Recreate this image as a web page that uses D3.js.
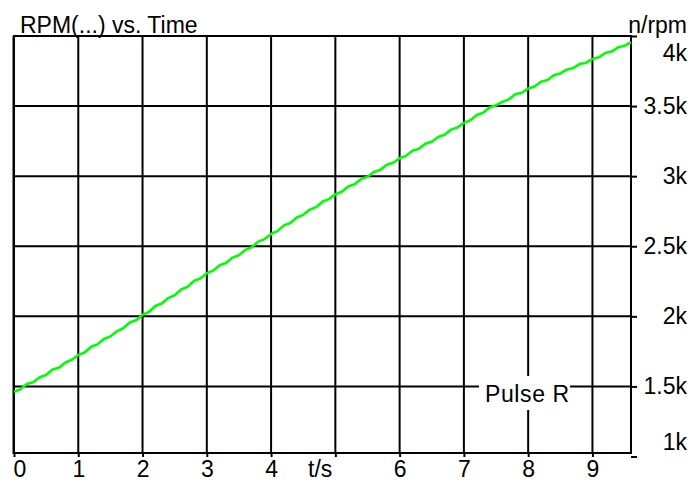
<!DOCTYPE html>
<html>
<head>
<meta charset="utf-8">
<script src="https://cdn.jsdelivr.net/npm/d3@7/dist/d3.min.js"></script>
<style>
  body { margin: 0; background: #fff; }
  text { font-family: "Liberation Sans", Arial, sans-serif; fill: #000; }
</style>
</head>
<body>
<div id="chart"></div>
<script>
// time axis ticks (s) and rpm ticks
var timeTicks = [0, 1, 2, 3, 4, 5, 6, 7, 8, 9];
var rpmTicks = [1000, 1500, 2000, 2500, 3000, 3500, 4000];

var times = [0.0, 0.1, 0.2, 0.3, 0.4, 0.5, 0.6, 0.7, 0.8, 0.9,
  1.0, 1.1, 1.2, 1.3, 1.4, 1.5, 1.6, 1.7, 1.8, 1.9,
  2.0, 2.1, 2.2, 2.3, 2.4, 2.5, 2.6, 2.7, 2.8, 2.9,
  3.0, 3.1, 3.2, 3.3, 3.4, 3.5, 3.6, 3.7, 3.8, 3.9,
  4.0, 4.1, 4.2, 4.3, 4.4, 4.5, 4.6, 4.7, 4.8, 4.9,
  5.0, 5.1, 5.2, 5.3, 5.4, 5.5, 5.6, 5.7, 5.8, 5.9,
  6.0, 6.1, 6.2, 6.3, 6.4, 6.5, 6.6, 6.7, 6.8, 6.9,
  7.0, 7.1, 7.2, 7.3, 7.4, 7.5, 7.6, 7.7, 7.8, 7.9,
  8.0, 8.1, 8.2, 8.3, 8.4, 8.5, 8.6, 8.7, 8.8, 8.9,
  9.0, 9.1, 9.2, 9.3, 9.4, 9.5, 9.6];
var rpm = [1462, 1480, 1518, 1530, 1566, 1581, 1620, 1633, 1671, 1690,
  1724, 1742, 1783, 1800, 1838, 1856, 1893, 1915, 1956, 1972,
  2012, 2031, 2074, 2092, 2130, 2150, 2191, 2210, 2252, 2270,
  2308, 2326, 2365, 2381, 2419, 2436, 2474, 2493, 2533, 2551,
  2588, 2608, 2649, 2666, 2705, 2724, 2761, 2779, 2818, 2836,
  2871, 2889, 2927, 2943, 2979, 2996, 3030, 3045, 3081, 3096,
  3128, 3145, 3181, 3195, 3231, 3246, 3280, 3296, 3332, 3347,
  3380, 3399, 3437, 3452, 3490, 3506, 3530, 3548, 3584, 3595,
  3625, 3640, 3674, 3686, 3720, 3733, 3760, 3771, 3800, 3809,
  3836, 3848, 3879, 3889, 3919, 3930, 3956];

var width = 690, height = 480;
var plotLeft = 14, plotRight = 631, plotTop = 36, plotBottom = 453;

var svg = d3.select('#chart').append('svg')
    .attr('width', width)
    .attr('height', height);

svg.append('rect').attr('width', width).attr('height', height).attr('fill', '#fff');

var x = d3.scaleLinear().domain([0, 9.6]).range([plotLeft, plotRight]);
var y = d3.scaleLinear().domain([1025, 4000]).range([plotBottom, plotTop]);

// grid
var grid = svg.append('g').attr('stroke', '#000').attr('stroke-width', 2);
grid.selectAll('line.v')
    .data(timeTicks.slice(1))
    .enter().append('line')
    .attr('class', 'v')
    .attr('x1', function(d) { return x(d); })
    .attr('x2', function(d) { return x(d); })
    .attr('y1', plotTop)
    .attr('y2', plotBottom);
grid.selectAll('line.h')
    .data(rpmTicks.filter(function(d) { return y(d) <= plotBottom; }))
    .enter().append('line')
    .attr('class', 'h')
    .attr('x1', plotLeft)
    .attr('x2', plotRight)
    .attr('y1', function(d) { return y(d); })
    .attr('y2', function(d) { return y(d); });

// frame
svg.append('rect')
    .attr('x', plotLeft).attr('y', plotTop)
    .attr('width', plotRight - plotLeft).attr('height', plotBottom - plotTop)
    .attr('fill', 'none').attr('stroke', '#000').attr('stroke-width', 2);
svg.append('line')
    .attr('x1', plotLeft - 0.5).attr('x2', plotLeft - 0.5)
    .attr('y1', plotTop).attr('y2', plotBottom + 1)
    .attr('stroke', '#000').attr('stroke-width', 2);

// legend box (masks grid)
svg.append('rect')
    .attr('x', 479).attr('y', 376).attr('width', 91).attr('height', 34)
    .attr('fill', '#fff');
svg.append('text')
    .attr('x', 485).attr('y', 401.5)
    .style('font-size', '23px')
    .style('letter-spacing', '0.6px')
    .text('Pulse R');

// data line
var line = d3.line()
    .x(function(d, i) { return x(times[i]); })
    .y(function(d) { return y(d); });
svg.append('path')
    .datum(rpm)
    .attr('d', line)
    .attr('fill', 'none')
    .attr('stroke', '#00ff00')
    .attr('stroke-width', 2.6)
    .attr('stroke-linejoin', 'round');

// x axis
var xAxis = d3.axisBottom(x)
    .tickValues(timeTicks)
    .tickSize(4)
    .tickFormat(function(d) { return d === 5 ? '' : d; });
var gx = svg.append('g')
    .attr('transform', 'translate(0,' + plotBottom + ')')
    .call(xAxis);
gx.select('.domain').remove();
gx.selectAll('.tick line').attr('stroke', '#000').attr('stroke-width', 2);
gx.selectAll('.tick text')
    .attr('y', 8)
    .style('font-size', '23px')
    .style('font-family', '"Liberation Sans", Arial, sans-serif')
    .attr('fill', '#000');
gx.selectAll('.tick text')
    .filter(function(d) { return d === 0; })
    .attr('text-anchor', 'start')
    .attr('x', -1);
svg.append('text')
    .attr('x', x(5) - 3).attr('y', 477)
    .attr('text-anchor', 'end')
    .style('font-size', '23px')
    .text('t/s');

// y axis on the right
var yAxis = d3.axisRight(y)
    .tickValues(rpmTicks)
    .tickSize(6)
    .tickFormat(function(d) { return d / 1000 + 'k'; });
var gy = svg.append('g')
    .attr('transform', 'translate(' + plotRight + ',0)')
    .call(yAxis);
gy.select('.domain').remove();
gy.selectAll('.tick line').attr('stroke', '#000').attr('stroke-width', 2);
gy.selectAll('.tick').each(function(d) {
    var t = d3.select(this);
    var yy = y(d);
    var base = Math.max(plotTop + 24, Math.min(plotBottom - 4, yy + 7.5));
    t.select('text')
        .attr('x', 56)
        .attr('dy', null)
        .attr('y', base - yy)
        .attr('text-anchor', 'end')
        .style('font-size', '23px')
        .style('font-family', '"Liberation Sans", Arial, sans-serif')
        .attr('fill', '#000');
});

// titles
svg.append('text')
    .attr('x', 20).attr('y', 33)
    .style('font-size', '23px')
    .text('RPM(...) vs. Time');
svg.append('text')
    .attr('x', 687).attr('y', 33)
    .attr('text-anchor', 'end')
    .style('font-size', '23px')
    .text('n/rpm');
</script>
</body>
</html>
